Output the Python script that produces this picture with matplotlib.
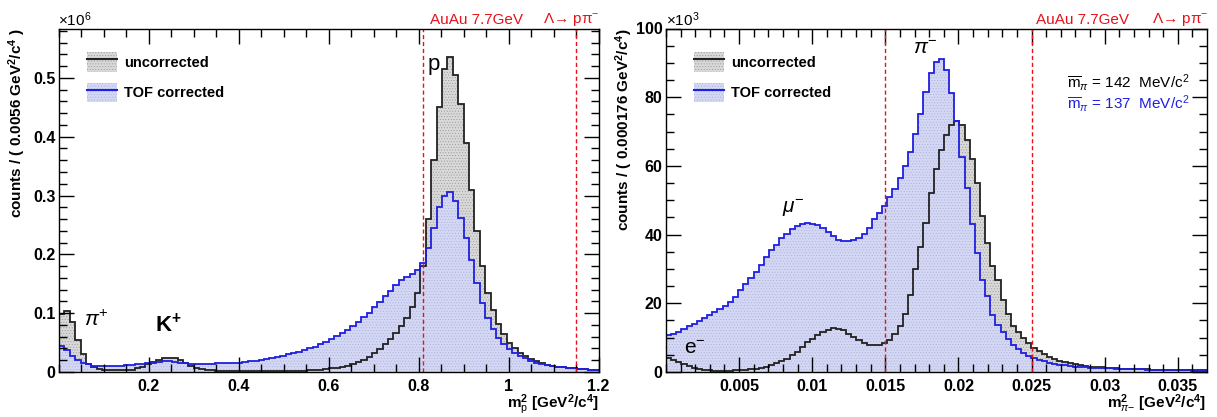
import numpy as np
import matplotlib
matplotlib.use("Agg")
import matplotlib.pyplot as plt
from matplotlib.patches import Patch
from matplotlib.lines import Line2D
from matplotlib.ticker import MultipleLocator, FuncFormatter

plt.rcParams['font.family'] = ['Liberation Sans', 'DejaVu Sans']
plt.rcParams['mathtext.fontset'] = 'custom'
plt.rcParams['mathtext.rm'] = 'Liberation Sans'
plt.rcParams['mathtext.it'] = 'Liberation Sans:italic'
plt.rcParams['mathtext.bf'] = 'Liberation Sans:bold'
plt.rcParams['hatch.linewidth'] = 0.4

# ---- left panel: proton candidates, m^2 in GeV^2/c^4, counts in 1e6 ----
p_edges = np.linspace(0.0, 1.2, 101)
p_uncorr = [0.098, 0.103, 0.085, 0.055, 0.030, 0.014, 0.008, 0.005, 0.004, 0.003,
            0.003, 0.003, 0.003, 0.004, 0.006, 0.009, 0.013, 0.017, 0.020, 0.023,
            0.024, 0.023, 0.020, 0.015, 0.010, 0.007, 0.005, 0.004, 0.003, 0.002,
            0.002, 0.002, 0.002, 0.002, 0.002, 0.002, 0.002, 0.002, 0.002, 0.002,
            0.002, 0.002, 0.002, 0.002, 0.002, 0.002, 0.003, 0.003, 0.004, 0.005,
            0.006, 0.007, 0.009, 0.011, 0.014, 0.017, 0.021, 0.026, 0.032, 0.039,
            0.047, 0.056, 0.067, 0.078, 0.091, 0.110, 0.135, 0.180, 0.260, 0.360,
            0.450, 0.515, 0.535, 0.505, 0.455, 0.390, 0.310, 0.240, 0.180, 0.135,
            0.105, 0.082, 0.064, 0.050, 0.040, 0.033, 0.027, 0.022, 0.018, 0.015,
            0.012, 0.010, 0.009, 0.008, 0.007, 0.006, 0.005, 0.005, 0.004, 0.004]
p_corr = [0.045, 0.037, 0.028, 0.021, 0.016, 0.013, 0.011, 0.011, 0.011, 0.011,
          0.011, 0.011, 0.012, 0.012, 0.013, 0.014, 0.015, 0.016, 0.017, 0.018,
          0.018, 0.017, 0.016, 0.015, 0.014, 0.014, 0.014, 0.014, 0.014, 0.015,
          0.015, 0.015, 0.016, 0.016, 0.017, 0.018, 0.019, 0.021, 0.022, 0.024,
          0.026, 0.028, 0.030, 0.032, 0.034, 0.037, 0.040, 0.043, 0.047, 0.051,
          0.056, 0.061, 0.066, 0.072, 0.078, 0.085, 0.093, 0.101, 0.110, 0.119,
          0.129, 0.138, 0.148, 0.156, 0.161, 0.166, 0.173, 0.185, 0.210, 0.245,
          0.280, 0.300, 0.306, 0.290, 0.262, 0.228, 0.190, 0.152, 0.118, 0.092,
          0.073, 0.058, 0.047, 0.039, 0.032, 0.027, 0.023, 0.019, 0.016, 0.014,
          0.012, 0.010, 0.009, 0.008, 0.007, 0.006, 0.005, 0.005, 0.004, 0.004]

# ---- right panel: pion candidates, counts in 1e3 ----
pi_edges = np.linspace(0.0, 0.03696, 106)
pi_uncorr = [4.2, 3.4, 2.8, 2.2, 1.7, 1.3, 1.0, 0.7, 0.5, 0.4,
             0.4, 0.4, 0.4, 0.5, 0.5, 0.6, 0.8, 1.0, 1.3, 1.6,
             2.1, 2.7, 3.2, 3.9, 4.9, 5.7, 7.2, 8.6, 9.7, 10.8,
             11.7, 12.3, 12.7, 12.6, 12.1, 11.2, 10.2, 9.3, 8.5, 8.0,
             7.8, 7.8, 8.4, 9.3, 11.0, 13.3, 17.0, 22.5, 30.0, 36.5,
             43.5, 52.0, 59.0, 64.5, 69.0, 71.8, 73.0, 72.0, 67.5, 62.0,
             55.0, 45.5, 37.5, 31.0, 26.8, 21.0, 17.0, 13.5, 11.7, 9.8,
             8.3, 7.0, 6.0, 5.2, 4.4, 3.8, 3.3, 2.8, 2.5, 2.2,
             2.0, 1.8, 1.6, 1.5, 1.4, 1.3, 1.2, 1.1, 1.0, 1.0,
             0.9, 0.9, 0.8, 0.8, 0.7, 0.7, 0.7, 0.6, 0.6, 0.6,
             0.5, 0.5, 0.5, 0.5, 0.5]
pi_corr = [10.8, 11.2, 11.6, 12.4, 13.3, 14.1, 14.9, 15.6, 16.6, 17.5,
           18.4, 19.3, 20.4, 21.9, 23.8, 25.5, 27.3, 29.0, 31.2, 33.5,
           35.6, 37.1, 38.9, 40.3, 41.5, 42.5, 43.1, 43.4, 43.2, 42.8,
           42.0, 40.9, 39.6, 38.3, 38.0, 38.0, 38.4, 38.9, 40.3, 42.0,
           44.4, 46.3, 48.3, 51.0, 53.4, 56.6, 60.0, 64.0, 69.2, 75.0,
           81.6, 87.0, 90.3, 91.2, 88.0, 81.2, 73.0, 62.5, 53.5, 43.0,
           34.5, 26.8, 22.0, 16.5, 13.6, 11.5, 9.6, 7.8, 6.8, 5.6,
           4.6, 4.0, 3.5, 3.1, 2.7, 2.4, 2.1, 1.9, 1.7, 1.6,
           1.5, 1.4, 1.3, 1.25, 1.2, 1.1, 1.05, 1.0, 0.95, 0.9,
           0.85, 0.8, 0.75, 0.7, 0.65, 0.6, 0.6, 0.55, 0.5, 0.5,
           0.45, 0.45, 0.4, 0.4, 0.4]

p_cuts = [0.81, 1.15]
pi_cuts = [0.015, 0.025]

grey_fill = '#d9d9d9'
blue_fill = '#d5d8f3'
blue = '#1f1fe0'
red = '#e8101a'

W, H = 1217, 417
fig = plt.figure(figsize=(W / 100, H / 100), dpi=100)


def px(x0, y0, x1, y1):
    return [x0 / W, 1 - y1 / H, (x1 - x0) / W, (y1 - y0) / H]


def hist_panel(ax, edges, unc, cor, cuts):
    ax.stairs(unc, edges, fill=True, facecolor=grey_fill, edgecolor='#9a9a9a',
              hatch='......', linewidth=0)
    ax.stairs(cor, edges, fill=True, facecolor=blue_fill, edgecolor='#aab0e2',
              hatch='......', linewidth=0)
    ax.stairs(unc, edges, baseline=None, color='#222222', lw=1.3)
    ax.stairs(cor, edges, baseline=None, color=blue, lw=1.3)
    for c in cuts:
        ax.axvline(c, color=red, ls=(0, (3, 2)), lw=1.0)
    ax.tick_params(which='both', direction='in', top=True, right=True,
                   labelsize=11.5, width=1.0)
    ax.tick_params(axis='x', pad=5)
    ax.tick_params(axis='y', pad=2.5)
    ax.tick_params(which='major', length=11)
    ax.tick_params(which='minor', length=5.5)
    for s in ax.spines.values():
        s.set_linewidth(1.0)
    hl = [(Patch(facecolor=grey_fill, edgecolor='#9a9a9a', hatch='......', lw=0),
           Line2D([], [], color='#222222', lw=1.5)),
          (Patch(facecolor=blue_fill, edgecolor='#aab0e2', hatch='......', lw=0),
           Line2D([], [], color=blue, lw=1.5))]
    ax.legend(hl, ['uncorrected', 'TOF corrected'], loc='upper left',
              bbox_to_anchor=(0.027, 0.97), frameon=False,
              prop={'weight': 'bold', 'size': 10.5}, handlelength=2.1,
              handleheight=1.7, labelspacing=0.75, handletextpad=0.45)


fmt = FuncFormatter(lambda v, pos: '%g' % round(v, 6))

# left panel
ax1 = fig.add_axes(px(59, 28.5, 598.5, 372))
hist_panel(ax1, p_edges, p_uncorr, p_corr, p_cuts)
ax1.set_xlim(0, 1.2)
ax1.set_ylim(0, 0.584)
ax1.set_xticks([0.2, 0.4, 0.6, 0.8, 1.0, 1.2])
ax1.xaxis.set_minor_locator(MultipleLocator(0.05))
ax1.yaxis.set_major_locator(MultipleLocator(0.1))
ax1.yaxis.set_minor_locator(MultipleLocator(0.02))
ax1.xaxis.set_major_formatter(fmt)
ax1.yaxis.set_major_formatter(fmt)
for lab in ax1.get_xticklabels() + ax1.get_yticklabels():
    lab.set_fontweight('bold')
ax1.set_ylabel(r'counts / ( 0.0056 GeV$^{\mathbf{2}}$/c$^{\mathbf{4}}$ )',
               fontsize=11, fontweight='bold', loc='top')
ax1.yaxis.set_label_coords(-0.058, 1.0)
ax1.set_xlabel(r'm$^{\mathbf{2}}_{\mathrm{p}}$ [GeV$^{\mathbf{2}}$/c$^{\mathbf{4}}$]',
               fontsize=11, fontweight='bold', loc='right')
ax1.xaxis.set_label_coords(1.0, -0.06)
ax1.text(0.847, 0.513, 'p', fontsize=16, ha='right', va='baseline')
ax1.text(0.055, 0.072, r'$\pi^{+}$', fontsize=15, ha='left', va='bottom')
ax1.text(0.213, 0.060, r'$\mathbf{K^{+}}$', fontsize=16, ha='left', va='bottom')

# right panel
ax2 = fig.add_axes(px(666, 28.5, 1206.5, 372))
hist_panel(ax2, pi_edges, pi_uncorr, pi_corr, pi_cuts)
ax2.set_xlim(0, 0.03696)
ax2.set_ylim(0, 100)
ax2.set_xticks([0.005, 0.01, 0.015, 0.02, 0.025, 0.03, 0.035])
ax2.xaxis.set_minor_locator(MultipleLocator(0.001))
ax2.yaxis.set_major_locator(MultipleLocator(20))
ax2.yaxis.set_minor_locator(MultipleLocator(5))
ax2.xaxis.set_major_formatter(fmt)
ax2.yaxis.set_major_formatter(fmt)
for lab in ax2.get_xticklabels() + ax2.get_yticklabels():
    lab.set_fontweight('bold')
ax2.set_ylabel(r'counts / ( 0.000176 GeV$^{\mathbf{2}}$/c$^{\mathbf{4}}$)',
               fontsize=11, fontweight='bold', loc='top')
ax2.yaxis.set_label_coords(-0.057, 1.0)
ax2.set_xlabel(r'm$^{\mathbf{2}}_{\pi\mathrm{-}}$ [GeV$^{\mathbf{2}}$/c$^{\mathbf{4}}$]',
               fontsize=11, fontweight='bold', loc='right')
ax2.xaxis.set_label_coords(1.0, -0.06)
ax2.text(0.0169, 91.4, r'$\pi^{-}$', fontsize=15, ha='left', va='bottom')
ax2.text(0.0079, 44.5, r'$\mu^{-}$', fontsize=15, ha='left', va='bottom')
ax2.text(0.0012, 4, r'e$^{-}$', fontsize=15, ha='left', va='bottom')
ax2.text(0.0274, 84.3, r'$\overline{\mathrm{m}}_{\pi}$ = 142  MeV/c$^{2}$',
         fontsize=11, color='black', ha='left', va='center')
ax2.text(0.0274, 78.3, r'$\overline{\mathrm{m}}_{\pi}$ = 137  MeV/c$^{2}$',
         fontsize=11, color=blue, ha='left', va='center')

# header texts
for x_mult, x_auau, x_lam, mult in [(58, 430, 543, r'$\times$10$^{6}$'),
                                   (666, 1036, 1152, r'$\times$10$^{3}$')]:
    fig.text(x_mult / W, 1 - 20 / H, mult, fontsize=11, ha='left', va='center')
    fig.text(x_auau / W, 1 - 20 / H, 'AuAu 7.7GeV', fontsize=11, color=red,
             ha='left', va='center')
    fig.text(x_lam / W, 1 - 20 / H, 'Λ→ pπ$^{-}$',
             fontsize=11, color=red, ha='left', va='center')

fig.savefig('out.png', dpi=100)
